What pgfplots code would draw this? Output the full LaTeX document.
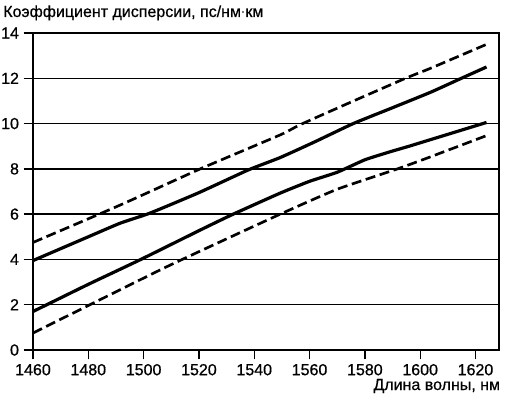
\documentclass[border=0pt]{standalone}
\usepackage{fontspec}
\setmainfont{Liberation Sans}[FakeBold=0.6,AutoFakeBold=0.6]
\newfontfamily\lab{Liberation Sans}[FakeBold=0.6]
\usepackage{pgfplots}
\pgfplotsset{compat=1.18}
\begin{document}
\begin{tikzpicture}
\begin{axis}[
  scale only axis,
  width=349.5pt, height=237.75pt,
  xmin=1460, xmax=1628.5, ymin=0, ymax=14,
  xtick={1460,1480,...,1620}, ytick={0,2,...,14},
  /pgf/number format/assume math mode=true,
  /pgf/number format/1000 sep={},
  ticklabel style={font=\fontsize{12}{14}\selectfont\bfseries},
  tick style={black, line width=1pt},
  major tick length=7pt,
  tick align=outside,
  xtick pos=bottom, ytick pos=left,
  ymajorgrids, major grid style={black, line width=1pt},
  axis line style={line width=1pt},
  clip=false,
  every axis plot/.append style={black},
]
\addplot[line width=2.4pt, smooth, tension=0.3] coordinates {(1460,3.95)(1480,5.0)(1491.5,5.6)(1502.4,6.05)(1520,6.95)(1537.8,7.95)(1549.4,8.5)(1562,9.2)(1575.8,10.0)(1590,10.7)(1603.7,11.38)(1614,11.95)(1624,12.5)};
\addplot[line width=2.4pt, smooth, tension=0.3] coordinates {(1460,1.7)(1480,2.9)(1499,4.0)(1520.5,5.3)(1532.4,6.0)(1549.4,6.93)(1560,7.45)(1570,7.85)(1580,8.4)(1589,8.75)(1596,9.0)(1604,9.3)(1624,10.05)};
\addplot[line width=2pt, dash pattern=on 7.5pt off 3.5pt, smooth, tension=0.3] coordinates {(1460,4.75)(1491.5,6.4)(1520.5,8.0)(1549.4,9.5)(1556.6,9.95)(1575,10.95)(1594.7,12.0)(1603.7,12.44)(1624,13.5)};
\addplot[line width=2pt, dash pattern=on 7.5pt off 3.5pt, smooth, tension=0.3] coordinates {(1460,0.75)(1480.6,2.0)(1509.6,3.75)(1549.4,6.0)(1570,7.1)(1591.8,8.0)(1602.6,8.48)(1623.6,9.45)};
\coordinate (bl) at (rel axis cs:0,0);
\node[anchor=base west, inner sep=0pt, font=\fontsize{12}{14}\selectfont\bfseries] at ([xshift=-22.5pt, yshift=12pt]rel axis cs:0,1) {Коэффициент дисперсии, пс/нм$\cdot$км};
\node[anchor=base east, inner sep=0pt, font=\fontsize{12}{14}\selectfont\bfseries] at ([xshift=1pt, yshift=-30pt]rel axis cs:1,0) {Длина волны, нм};
\end{axis}
\pgfresetboundingbox
\path (bl) ++(-24.75pt,-34.5pt) rectangle ++(379.5pt,297pt);
\end{tikzpicture}
\end{document}
